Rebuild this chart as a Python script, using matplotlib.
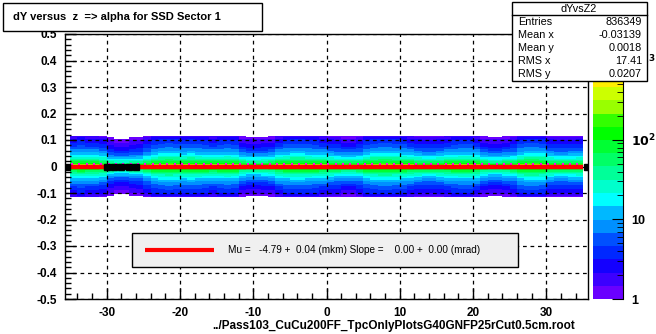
import numpy as np
import matplotlib
matplotlib.use("Agg")
import matplotlib.pyplot as plt
from matplotlib.colors import ListedColormap, BoundaryNorm
from matplotlib.patches import Rectangle
from matplotlib.lines import Line2D

plt.rcParams['font.family'] = ['Liberation Sans', 'DejaVu Sans']
plt.rcParams['axes.unicode_minus'] = False

W, H = 656, 334

# dYvsZ2 histogram: z bins of 0.5, dY bins of 0.005
z_edges = np.arange(-35.0, 35.01, 0.5)
dy_edges = np.arange(-0.115, 0.1151, 0.005)

# counts per dY bin (from -0.1125 up to +0.1125)
dy_counts = [1.5, 2, 2.5, 3, 3, 3.5, 4, 4.5, 5, 6, 7, 8, 10, 12, 15, 18,
             24, 32, 45, 65, 100, 180, 1500,
             1800, 220, 110, 70, 48, 34, 25, 19, 15, 12, 10, 8, 7, 6, 5,
             4.5, 4, 3.5, 3, 3, 2.5, 2, 1.5]

# relative density along z, one value per unit of z (-35 ... 34)
z_density = [1.0, 1.1, 1.0, 1.0, 0.9,
             0.5, 0.45, 0.45, 0.5, 0.55,
             0.8, 1.1, 1.3, 1.4, 1.3, 1.2,
             1.3, 1.2, 1.1, 1.0, 1.1, 1.2, 1.1,
             0.7, 0.6, 0.6, 0.65, 0.7,
             1.0, 1.2, 1.3, 1.3, 1.2, 1.1, 1.0,
             0.9, 0.8, 0.7, 0.7, 0.8,
             1.1, 1.3, 1.4, 1.4, 1.3, 1.2, 1.0,
             0.9, 0.8, 0.8, 0.9, 1.0, 1.1,
             1.2, 1.2, 1.0,
             0.7, 0.6, 0.6, 0.7, 0.8,
             1.2, 1.4, 1.4, 1.3,
             0.9, 0.8, 0.8, 0.85, 0.9]

# profile points that stand off the fitted line
prof_z = [-35.4, -30.0, -29.0, -28.0, -27.0, -26.0, 35.5]
prof_y = [0.0, 0.0, 0.0, 0.0, 0.0, 0.0, 0.0]
prof_err = [0.004, 0.004, 0.004, 0.004, 0.004, 0.004, 0.004]

# fit result
mu_mkm, mu_err = -4.79, 0.04
slope_mrad, slope_err = 0.00, 0.00

stats = [("Entries", "836349"), ("Mean x", "-0.03139"), ("Mean y", "0.0018"),
         ("RMS x", "17.41"), ("RMS y", "0.0207")]

palette = ['#6a00ff', '#3c00ff', '#1400ff', '#0028ff', '#0050ff', '#0090ff',
           '#00b8ff', '#00ffff', '#00ffcc', '#00ff99', '#00ff66', '#00ff33',
           '#00ff00', '#33ff00', '#99ff00', '#ccff00', '#ffee00', '#ffa500',
           '#ff6600', '#ff0000']
levels = np.logspace(0, 3.33, len(palette) + 1)

counts = np.outer(dy_counts, np.repeat(z_density, 2))
counts = np.ma.masked_less(counts, 1.0)

cmap = ListedColormap(palette)
cmap.set_over(palette[-1])
norm = BoundaryNorm(levels, cmap.N, clip=True)

fig = plt.figure(figsize=(W / 100, H / 100), dpi=100)
fig.patch.set_facecolor('white')


def frac(x0, y0, x1, y1):
    return [x0 / W, 1 - y1 / H, (x1 - x0) / W, (y1 - y0) / H]


ax = fig.add_axes(frac(65, 34, 588, 299))
ax.pcolormesh(z_edges, dy_edges, counts, cmap=cmap, norm=norm, zorder=1)
ax.set_xlim(-35.7, 35.7)
ax.set_ylim(-0.5, 0.5)

ax.set_xticks(np.arange(-30, 31, 10))
ax.set_xticks(np.arange(-34, 35, 2), minor=True)
ax.set_yticks(np.round(np.arange(-0.5, 0.51, 0.1), 1))
ax.set_yticks(np.arange(-0.5, 0.5, 0.02), minor=True)
ax.set_yticklabels(['-0.5', '-0.4', '-0.3', '-0.2', '-0.1', '0',
                    '0.1', '0.2', '0.3', '0.4', '0.5'])
ax.tick_params(which='both', direction='in', top=False, right=False,
               labelsize=8.5, width=1, pad=6)
ax.tick_params(which='major', length=8)
ax.tick_params(which='minor', length=4)
for lab in ax.get_xticklabels() + ax.get_yticklabels():
    lab.set_fontweight('bold')
ax.set_axisbelow(False)
ax.grid(True, which='major', color='black', linestyle=(0, (3, 3)), linewidth=0.9)
for sp in ax.spines.values():
    sp.set_linewidth(1)

# fitted straight line dY = mu + slope*z
zf = np.array([-35.0, 35.0])
ax.plot(zf, mu_mkm * 1e-4 + slope_mrad * 1e-3 * zf, color='red', lw=3.2,
        zorder=4, solid_capstyle='butt')

# magenta markers just above the line
ax.plot(z_edges[:-1:2] + 0.25, np.full(len(z_edges[:-1:2]), 0.008), 's',
        color='#ff00ff', ms=1.6, mew=0, zorder=3)

ax.errorbar(prof_z, prof_y, yerr=prof_err, fmt='s', color='black', ms=4,
            elinewidth=2, capsize=0, zorder=5)
ax.plot([-30.3, -25.8], [0.0, 0.0], color='black', lw=4.2, zorder=5,
        solid_capstyle='butt')

fig.text(575 / W, 1 - 326 / H,
         '../Pass103_CuCu200FF_TpcOnlyPlotsG40GNFP25rCut0.5cm.root',
         ha='right', va='center', fontsize=8.5, fontweight='bold')

# colour scale
cax = fig.add_axes(frac(593, 34, 623, 299))
for i, c in enumerate(palette):
    cax.axhspan(levels[i], levels[i + 1], color=c, lw=0)
cax.set_yscale('log')
cax.set_ylim(levels[0], levels[-1])
cax.set_xlim(0, 1)
cax.set_xticks([])
cax.yaxis.tick_right()
cax.set_yticks([1, 10, 100, 1000])
cax.set_yticklabels(['1', '10', r'$\mathbf{10^{2}}$', r'$\mathbf{10^{3}}$'])
cax.tick_params(which='both', direction='in', right=True, left=False,
                labelsize=9, pad=6)
cax.tick_params(which='major', length=8)
cax.tick_params(which='minor', length=4)
for lab in cax.get_yticklabels():
    lab.set_fontweight('bold')
for sp in cax.spines.values():
    sp.set_visible(False)
cax.spines['right'].set_visible(True)

# title box
fig.patches.append(Rectangle((3 / W, 1 - 31 / H), 259 / W, 28 / H,
                             transform=fig.transFigure, facecolor='white',
                             edgecolor='black', lw=1, zorder=5))
fig.text(13 / W, 1 - 17 / H, 'dY versus  z  => alpha for SSD Sector 1',
         ha='left', va='center', fontsize=8, fontweight='bold', zorder=6)

# statistics box
fig.patches.append(Rectangle((512 / W, 1 - 81 / H), 135 / W, 79 / H,
                             transform=fig.transFigure, facecolor='white',
                             edgecolor='black', lw=1, zorder=5))
fig.lines.append(Line2D([512 / W, 647 / W], [1 - 15 / H, 1 - 15 / H],
                        transform=fig.transFigure, color='black', lw=1,
                        zorder=6))
fig.text(579 / W, 1 - 9 / H, 'dYvsZ2', ha='center', va='center',
         fontsize=7.8, zorder=6)
for k, (name, val) in enumerate(stats):
    yy = 1 - (22 + 13 * k) / H
    fig.text(518 / W, yy, name, ha='left', va='center', fontsize=7.8, zorder=6)
    fig.text(642 / W, yy, val, ha='right', va='center', fontsize=7.8, zorder=6)

# fit legend
fig.patches.append(Rectangle((132 / W, 1 - 267 / H), 386 / W, 34 / H,
                             transform=fig.transFigure, facecolor='#f0f0f0',
                             edgecolor='black', lw=1, zorder=5))
fig.lines.append(Line2D([145 / W, 214 / W], [1 - 250 / H, 1 - 250 / H],
                        transform=fig.transFigure, color='red', lw=3,
                        zorder=6, solid_capstyle='butt'))
fig.text(228 / W, 1 - 250 / H,
         'Mu =   %.2f +  %.2f (mkm) Slope =    %.2f +  %.2f (mrad)'
         % (mu_mkm, mu_err, slope_mrad, slope_err),
         ha='left', va='center', fontsize=7.2, zorder=6)

fig.savefig('out.png', dpi=100)
